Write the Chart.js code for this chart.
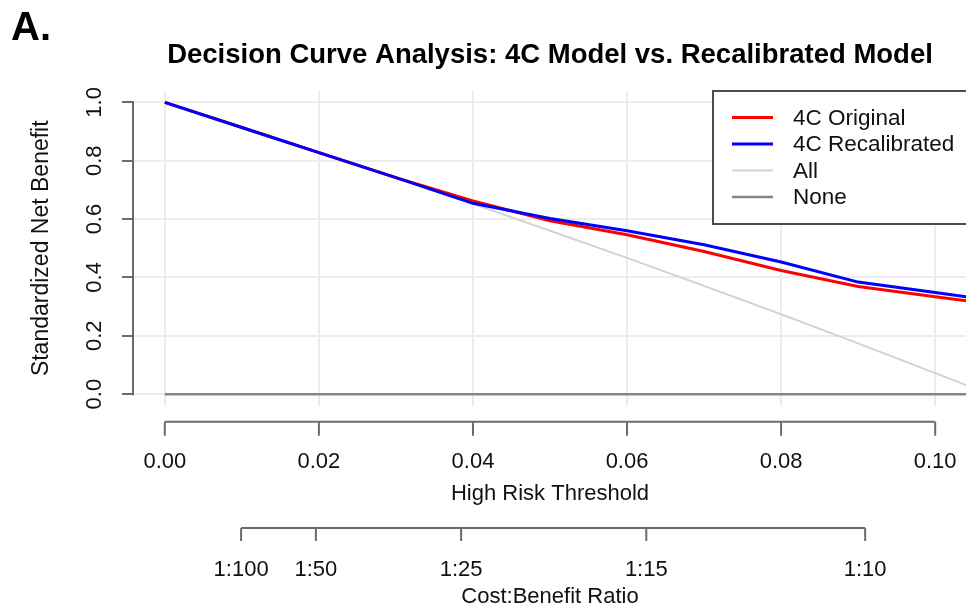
<!DOCTYPE html>
<html>
<head>
<meta charset="utf-8" />
<title>Decision Curve Analysis</title>
<script src="https://cdn.jsdelivr.net/npm/chart.js"></script>
<style>
  html, body { margin: 0; padding: 0; background: #fff; }
</style>
</head>
<body>
<canvas id="dca" width="966" height="610"></canvas>
<script>
// high risk thresholds (x) and standardized net benefit per strategy
const thresholds   = [0, 0.01, 0.02, 0.03, 0.04, 0.05, 0.06, 0.07, 0.08, 0.09, 0.10, 0.11];
const original     = [1.0, 0.914, 0.828, 0.742, 0.662, 0.594, 0.546, 0.489, 0.424, 0.369, 0.334, 0.299];
const recalibrated = [1.0, 0.914, 0.828, 0.742, 0.654, 0.602, 0.560, 0.512, 0.453, 0.384, 0.348, 0.312];
const treatAll     = [1.0, 0.916, 0.830, 0.742, 0.652, 0.560, 0.467, 0.371, 0.274, 0.174, 0.072, -0.030];
const treatNone    = [0, 0, 0, 0, 0, 0, 0, 0, 0, 0, 0, 0];

const xTicks = [0, 0.02, 0.04, 0.06, 0.08, 0.10];
const xTickLabels = ['0.00', '0.02', '0.04', '0.06', '0.08', '0.10'];
const yTicks = [0, 0.2, 0.4, 0.6, 0.8, 1.0];
const yTickLabels = ['0.0', '0.2', '0.4', '0.6', '0.8', '1.0'];
// cost:benefit axis, 1:r  ->  threshold 1/(1+r)
const cbRatios = [100, 50, 25, 15, 10];
const cbLabels = ['1:100', '1:50', '1:25', '1:15', '1:10'];

const FONT = "'Liberation Sans', Arial, Helvetica, sans-serif";
const AXIS_GRAY = '#6b6b6b';
const GRID = '#ececec';
const TEXT = '#111';

function toXY(series) {
  return thresholds.map((t, i) => ({ x: t, y: series[i] }));
}

// R style axes: line runs from first to last tick, drawn below the plot region
function drawRAxis(ctx, scale, values, yLine, len) {
  const x0 = scale.getPixelForValue(values[0]);
  const x1 = scale.getPixelForValue(values[values.length - 1]);
  ctx.beginPath();
  ctx.moveTo(x0, yLine);
  ctx.lineTo(x1, yLine);
  values.forEach(v => {
    const px = scale.getPixelForValue(v);
    ctx.moveTo(px, yLine);
    ctx.lineTo(px, yLine + len);
  });
  ctx.stroke();
}

const rExtras = {
  id: 'rExtras',
  afterDraw(chart) {
    const { ctx, chartArea, scales } = chart;
    const { x, x2, y } = scales;
    ctx.save();
    ctx.strokeStyle = AXIS_GRAY;
    ctx.lineWidth = 2;
    ctx.lineCap = 'butt';

    // y axis line
    ctx.beginPath();
    ctx.moveTo(chartArea.left - 1, y.getPixelForValue(yTicks[0]) + 1);
    ctx.lineTo(chartArea.left - 1, y.getPixelForValue(yTicks[yTicks.length - 1]) - 1);
    ctx.stroke();

    drawRAxis(ctx, x, xTicks, chartArea.bottom + 16, 14);
    drawRAxis(ctx, x2, x2.ticks.map(t => t.value), x2.top + 21, 13);

    // legend box, top right
    const bx = 713, by = 91, bh = 133;
    ctx.fillStyle = '#fff';
    ctx.fillRect(bx, by, chart.width - bx + 10, bh);
    ctx.strokeStyle = '#4d4d4d';
    ctx.strokeRect(bx, by, chart.width - bx + 10, bh);
    ctx.font = '22.5px ' + FONT;
    ctx.textBaseline = 'middle';
    ctx.textAlign = 'left';
    chart.data.datasets.forEach((ds, i) => {
      const ly = by + 26.5 + i * 26.5;
      ctx.strokeStyle = ds.borderColor;
      ctx.lineWidth = ds.borderWidth;
      ctx.beginPath();
      ctx.moveTo(732, ly);
      ctx.lineTo(773, ly);
      ctx.stroke();
      ctx.fillStyle = TEXT;
      ctx.fillText(ds.label, 793, ly + 1);
    });

    // panel label
    ctx.font = 'bold 40px ' + FONT;
    ctx.fillStyle = '#000';
    ctx.fillText('A.', 11, 29);
    ctx.restore();
  }
};

new Chart(document.getElementById('dca'), {
  type: 'line',
  data: {
    datasets: [
      { label: '4C Original', data: toXY(original), borderColor: '#ff0000', borderWidth: 3, order: 1 },
      { label: '4C Recalibrated', data: toXY(recalibrated), borderColor: '#0000ff', borderWidth: 3, order: 0 },
      { label: 'All', data: toXY(treatAll), borderColor: '#d3d3d3', borderWidth: 2, order: 2 },
      { label: 'None', data: toXY(treatNone), borderColor: '#858585', borderWidth: 2.5, order: 3 }
    ]
  },
  options: {
    responsive: false,
    animation: false,
    devicePixelRatio: 1,
    layout: { padding: 0 },
    elements: { point: { radius: 0 }, line: { tension: 0 } },
    plugins: {
      legend: { display: false },
      tooltip: { enabled: false },
      title: {
        display: true,
        fullSize: false,
        text: 'Decision Curve Analysis: 4C Model vs. Recalibrated Model',
        color: '#000',
        font: { family: FONT, size: 27.5, weight: 'bold', lineHeight: 1.2 },
        padding: { top: 38.5, bottom: 19.2 }
      }
    },
    scales: {
      x: {
        type: 'linear',
        position: 'bottom',
        min: -0.004,
        max: 0.104,
        afterBuildTicks: s => { s.ticks = xTicks.map(v => ({ value: v })); },
        ticks: {
          callback: (v, i) => xTickLabels[i],
          font: { family: FONT, size: 22, lineHeight: 1.2 },
          color: TEXT, padding: 0, autoSkip: false, maxRotation: 0
        },
        grid: { color: GRID, lineWidth: 2, drawTicks: true, tickLength: 42.8, tickColor: 'rgba(0,0,0,0)' },
        border: { display: false },
        title: {
          display: true, text: 'High Risk Threshold', color: TEXT,
          font: { family: FONT, size: 22, lineHeight: 1.2 },
          padding: { top: 5.6, bottom: 0 }
        }
      },
      x2: {
        type: 'linear',
        position: 'bottom',
        min: -0.004,
        max: 0.104,
        afterBuildTicks: s => { s.ticks = cbRatios.map(r => ({ value: 1 / (1 + r) })); },
        ticks: {
          callback: (v, i) => cbLabels[i],
          font: { family: FONT, size: 22, lineHeight: 1.2 },
          color: TEXT, padding: 0, autoSkip: false, maxRotation: 0
        },
        grid: { display: true, color: 'rgba(0,0,0,0)', drawTicks: true, tickLength: 49.6, tickColor: 'rgba(0,0,0,0)' },
        border: { display: false },
        title: {
          display: true, text: 'Cost:Benefit Ratio', color: TEXT,
          font: { family: FONT, size: 22, lineHeight: 1.2 },
          padding: { top: 0.6, bottom: 0 }
        }
      },
      y: {
        type: 'linear',
        position: 'left',
        min: -0.04,
        max: 1.04,
        afterBuildTicks: s => { s.ticks = yTicks.map(v => ({ value: v })); },
        ticks: {
          callback: (v, i) => yTickLabels[i],
          font: { family: FONT, size: 22, lineHeight: 1.2 },
          color: TEXT, padding: 11.7, minRotation: 90, maxRotation: 90,
          crossAlign: 'center', autoSkip: false
        },
        grid: { color: GRID, lineWidth: 2, drawTicks: true, tickLength: 12, tickColor: AXIS_GRAY, tickWidth: 2 },
        border: { display: false },
        title: {
          display: true, text: 'Standardized Net Benefit', color: TEXT,
          font: { family: FONT, size: 23, lineHeight: 1.2 },
          padding: { top: 28.2, bottom: 16.4 }
        }
      }
    }
  },
  plugins: [rExtras]
});
</script>
</body>
</html>
